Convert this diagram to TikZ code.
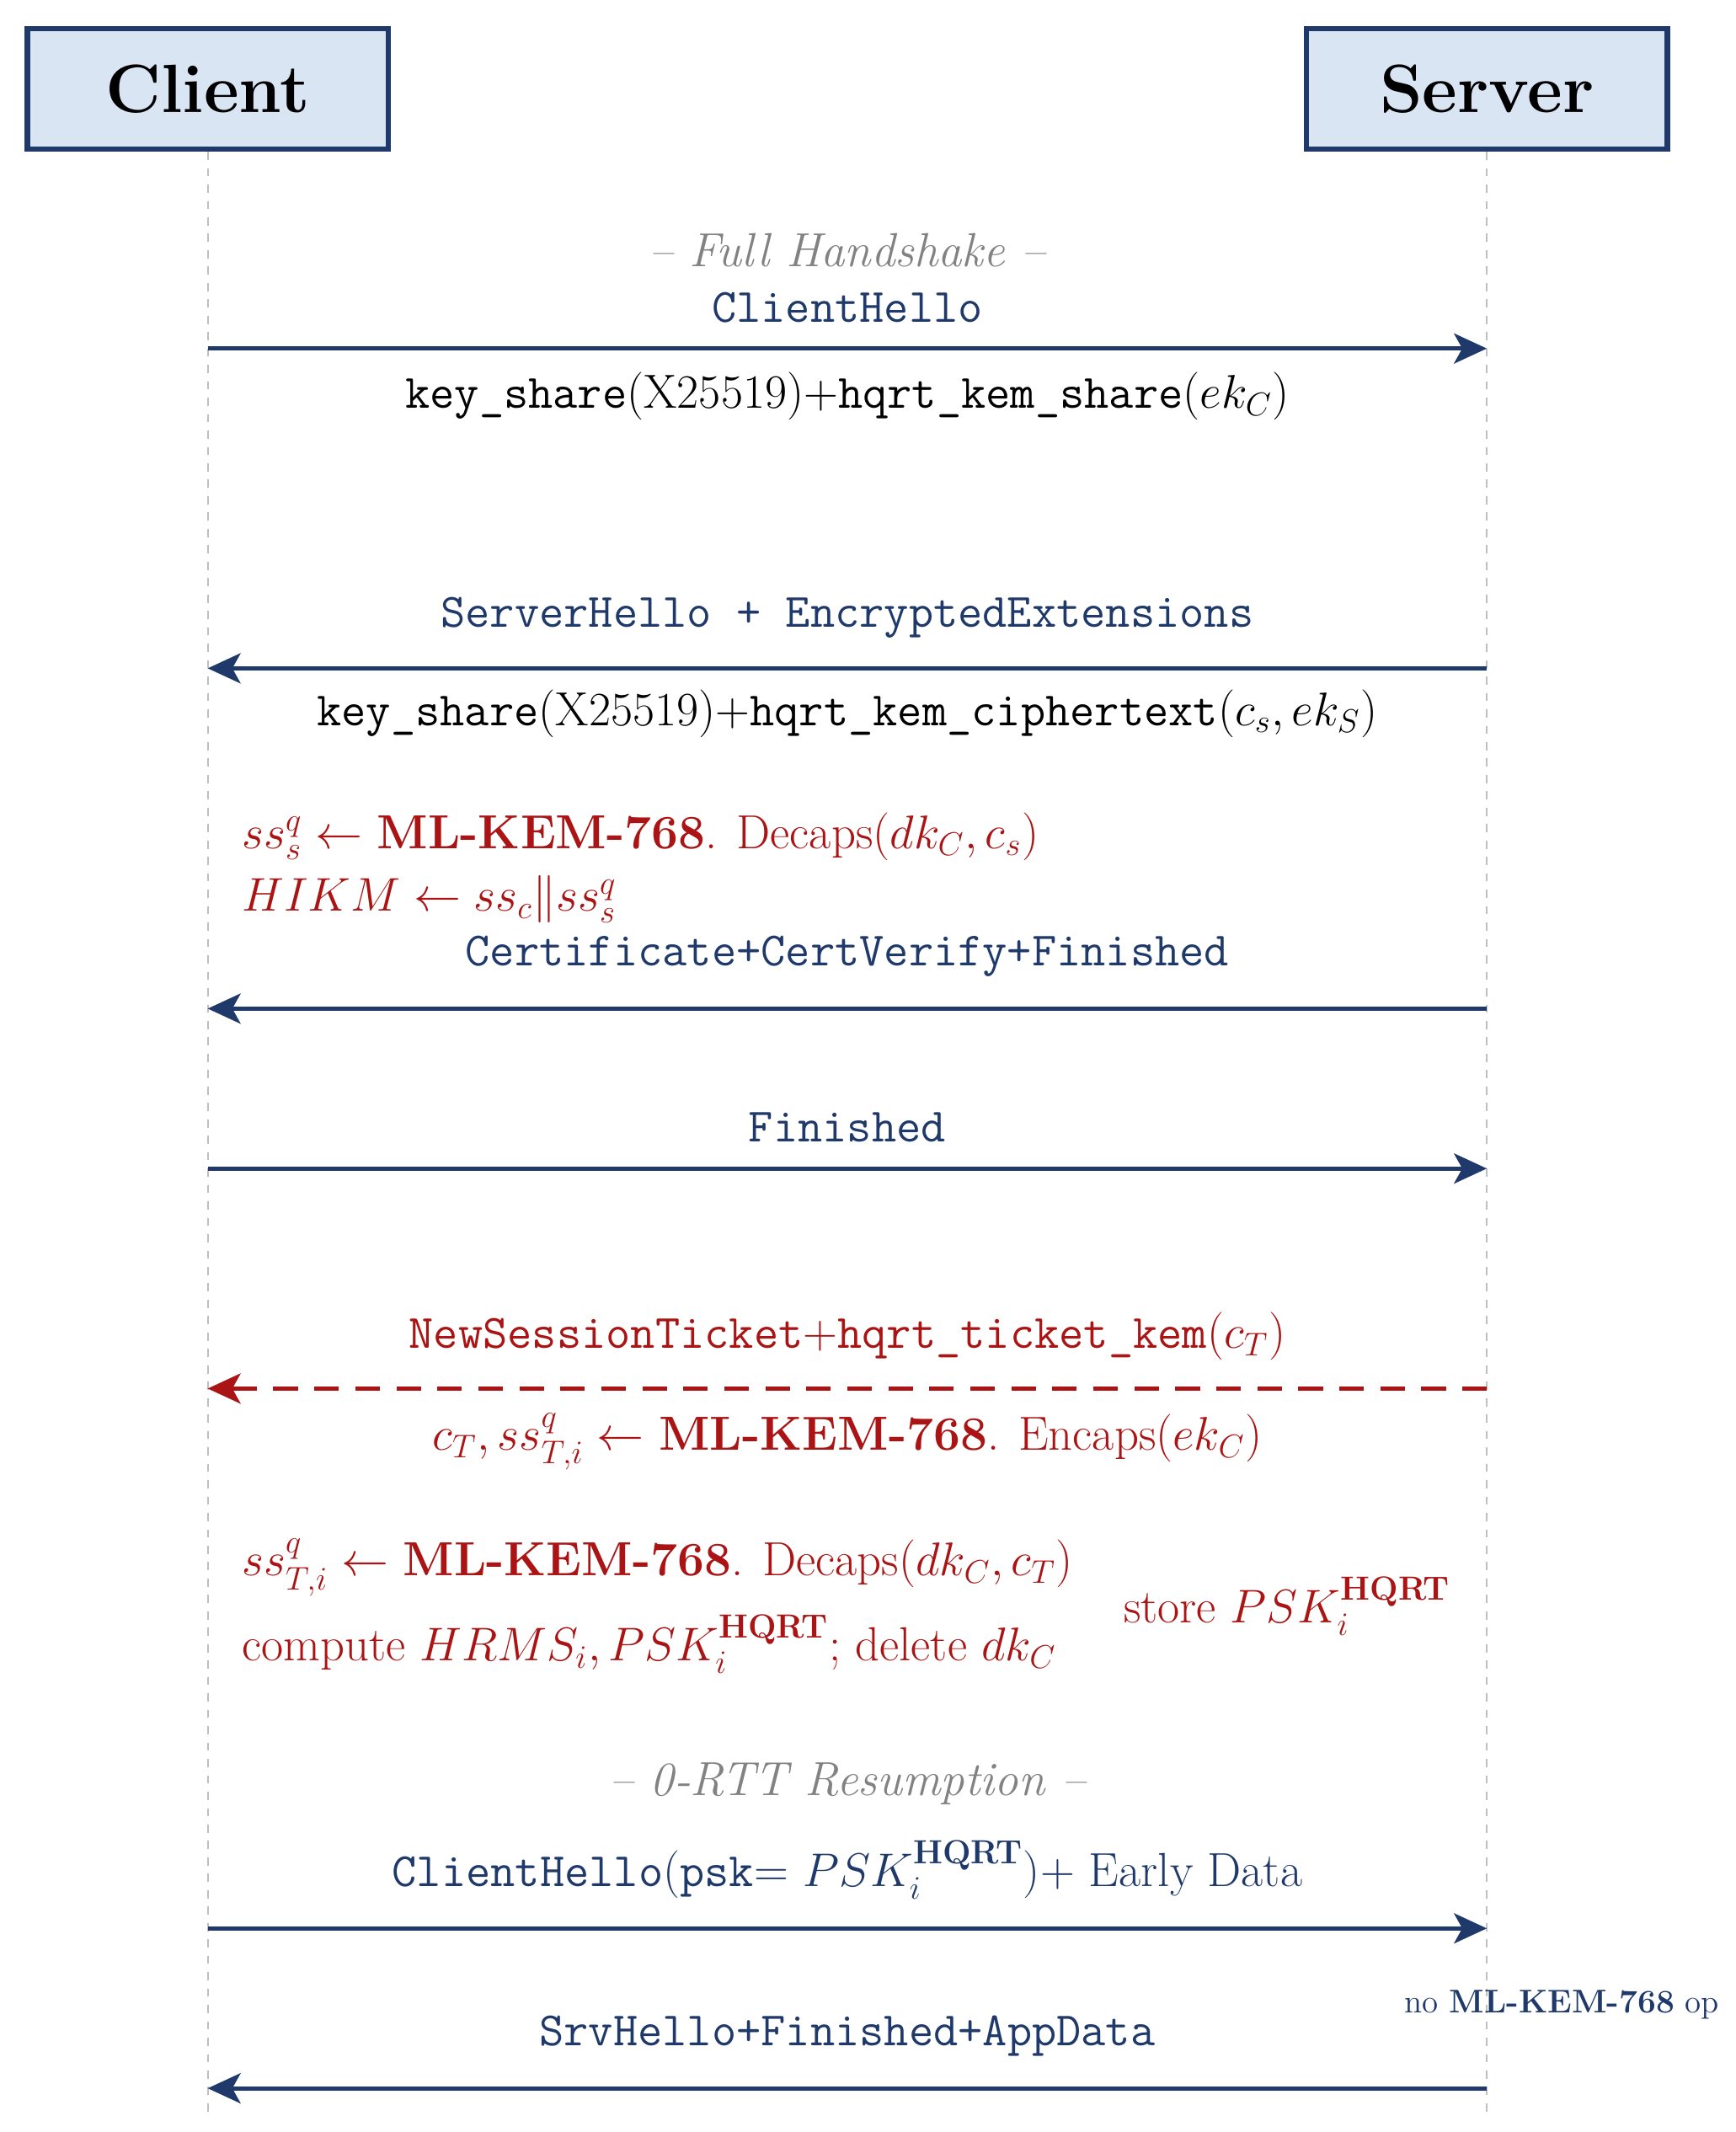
\documentclass[tikz,border=0pt]{standalone}
\usepackage{amsmath}
\usetikzlibrary{arrows.meta}
\definecolor{hqblue}{RGB}{31,58,106}
\definecolor{hqfill}{RGB}{218,229,243}
\definecolor{hqred}{RGB}{170,20,20}
\definecolor{hqgray}{RGB}{130,130,130}
\newcommand{\mlkem}{\textbf{ML-KEM-768}}
\tikzset{
  party/.style={draw=hqblue,fill=hqfill,line width=2pt,minimum width=132pt,minimum height=44pt,font=\fontsize{25}{29}\selectfont\bfseries},
  life/.style={draw=gray!50,dashed,line width=0.6pt},
  msg/.style={draw=hqblue,line width=1.5pt,-{Stealth[length=12pt,width=11pt,inset=3pt]}},
  tkt/.style={draw=hqred,line width=1.5pt,dash pattern=on 9pt off 6pt,-{Stealth[length=12pt,width=11pt,inset=3pt]}},
  lbl/.style={font=\fontsize{17.5}{21}\selectfont},
  note/.style={font=\fontsize{17.5}{21}\selectfont,text=hqred,anchor=west},
  phase/.style={font=\fontsize{17.5}{21}\selectfont\itshape,text=hqgray}
}
\begin{document}
\begin{tikzpicture}[x=0.5pt,y=-0.5pt]
\useasboundingbox (0,0) rectangle (1270,1560);

% parties and lifelines
\node[party] (client) at (152,65) {Client};
\node[party] (server) at (1088,65) {Server};
\coordinate (cend) at (152,1545);
\coordinate (send) at (1088,1545);
\draw[life] (client.south) -- (cend);
\draw[life] (server.south) -- (send);

% full handshake
\node[phase] (full) at (620,183) {-- Full Handshake --};
\node[lbl,text=hqblue] (chlo) at (620,225) {\texttt{ClientHello}};
\coordinate (c1) at (152,255); \coordinate (s1) at (1088,255);
\draw[msg] (c1) -- (s1);
\node[lbl] (ks1) at (620,290) {\texttt{key\_share}(X25519)+\texttt{hqrt\_kem\_share}($ek_C$)};

\node[lbl,text=hqblue] (shlo) at (620,452) {\texttt{ServerHello + EncryptedExtensions}};
\coordinate (c2) at (152,489); \coordinate (s2) at (1088,489);
\draw[msg] (s2) -- (c2);
\node[lbl] (ks2) at (620,522) {\texttt{key\_share}(X25519)+\texttt{hqrt\_kem\_ciphertext}($c_s,ek_S$)};

\node[note] (dec1) at (170,612) {$ss_s^q \leftarrow$ \mlkem. Decaps($dk_C,c_s$)};
\node[note] (hikm) at (170,658) {$HIKM \leftarrow ss_c \| ss_s^q$};

\node[lbl,text=hqblue] (cert) at (620,700) {\texttt{Certificate+CertVerify+Finished}};
\coordinate (c3) at (152,738); \coordinate (s3) at (1088,738);
\draw[msg] (s3) -- (c3);

\node[lbl,text=hqblue] (fin) at (620,825) {\texttt{Finished}};
\coordinate (c4) at (152,855); \coordinate (s4) at (1088,855);
\draw[msg] (c4) -- (s4);

% ticket
\node[lbl,text=hqred] (nst) at (620,978) {\texttt{NewSessionTicket}+\texttt{hqrt\_ticket\_kem}($c_T$)};
\coordinate (c5) at (152,1016); \coordinate (s5) at (1088,1016);
\draw[tkt] (s5) -- (c5);
\node[lbl,text=hqred] (enc) at (620,1055) {$c_T,ss_{T,i}^q \leftarrow$ \mlkem. Encaps($ek_C$)};

\node[note] (dec2) at (170,1147) {$ss_{T,i}^q \leftarrow$ \mlkem. Decaps($dk_C,c_T$)};
\node[note] (comp) at (170,1203) {compute $HRMS_i,PSK_i^{\textbf{HQRT}}$; delete $dk_C$};
\node[lbl,text=hqred] (store) at (942,1175) {store $PSK_i^{\textbf{HQRT}}$};

% resumption
\node[phase] (zrtt) at (620,1305) {-- 0-RTT Resumption --};
\node[lbl,text=hqblue] (ch2) at (620,1368) {\texttt{ClientHello}(\texttt{psk}= $PSK_i^{\textbf{HQRT}}$)+ Early Data};
\coordinate (c6) at (152,1411); \coordinate (s6) at (1088,1411);
\draw[msg] (c6) -- (s6);
\node[font=\fontsize{12}{14}\selectfont,text=hqblue] (nokem) at (1143,1467) {no \mlkem\ op};

\node[lbl,text=hqblue] (srv) at (620,1490) {\texttt{SrvHello+Finished+AppData}};
\coordinate (c7) at (152,1528); \coordinate (s7) at (1088,1528);
\draw[msg] (s7) -- (c7);
\end{tikzpicture}
\end{document}
